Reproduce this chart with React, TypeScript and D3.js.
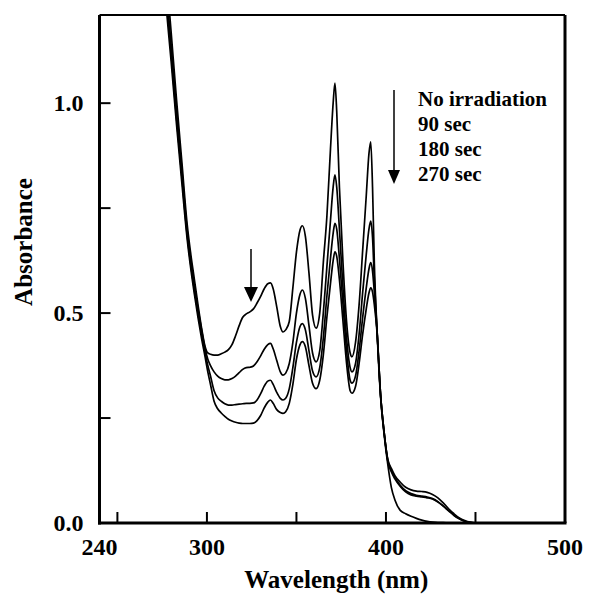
import React from "react";
import * as d3 from "d3";

const wavelengths = [272, 276, 280, 283, 286, 289, 291, 293, 295, 297, 299, 300.5, 302, 304, 306, 308, 310, 312, 314, 316, 318, 320, 322, 324, 326, 328, 330, 332, 334, 335.5, 337, 339, 341, 342.5, 344, 346, 348, 350, 352, 353.3, 355, 357, 359, 361, 363, 365, 367, 369, 370.5, 371.5, 372.5, 374, 376, 378, 380, 381, 383, 385, 387, 389, 390.5, 391.5, 392.5, 393.5, 395, 397, 399, 401, 403, 405, 408, 411, 414, 417, 420, 423, 426, 429, 432, 435, 438, 441, 444, 447, 450, 455];

const noIrradiation = [1.62, 1.38, 1.17, 1.01, 0.86, 0.71, 0.64, 0.58, 0.52, 0.465, 0.42, 0.405, 0.402, 0.4, 0.4, 0.403, 0.407, 0.413, 0.425, 0.446, 0.47, 0.49, 0.498, 0.503, 0.51, 0.524, 0.54, 0.558, 0.57, 0.572, 0.558, 0.515, 0.468, 0.455, 0.46, 0.48, 0.56, 0.645, 0.698, 0.708, 0.683, 0.595, 0.495, 0.464, 0.5, 0.62, 0.73, 0.89, 1.0, 1.048, 0.98, 0.8, 0.62, 0.48, 0.405, 0.396, 0.43, 0.52, 0.65, 0.78, 0.88, 0.908, 0.8, 0.62, 0.46, 0.3, 0.21, 0.14, 0.085, 0.055, 0.03, 0.022, 0.016, 0.011, 0.007, 0.004, 0.002, 0.001, 0.001, 0, 0, 0, 0, 0, 0, 0];

const sec90 = [1.58, 1.34, 1.14, 0.985, 0.84, 0.695, 0.625, 0.565, 0.51, 0.46, 0.415, 0.39, 0.375, 0.36, 0.35, 0.344, 0.341, 0.341, 0.344, 0.35, 0.358, 0.366, 0.37, 0.371, 0.374, 0.384, 0.398, 0.414, 0.425, 0.428, 0.415, 0.387, 0.36, 0.352, 0.357, 0.38, 0.43, 0.5, 0.545, 0.555, 0.535, 0.47, 0.405, 0.384, 0.41, 0.5, 0.61, 0.72, 0.8, 0.829, 0.8, 0.7, 0.56, 0.44, 0.37, 0.36, 0.38, 0.45, 0.55, 0.64, 0.7, 0.719, 0.68, 0.58, 0.46, 0.305, 0.215, 0.148, 0.122, 0.105, 0.087, 0.074, 0.067, 0.064, 0.062, 0.06, 0.057, 0.05, 0.04, 0.029, 0.018, 0.01, 0.004, 0.001, 0, 0];

const sec180 = [1.55, 1.31, 1.12, 0.965, 0.825, 0.685, 0.615, 0.555, 0.5, 0.45, 0.405, 0.375, 0.35, 0.315, 0.298, 0.29, 0.284, 0.281, 0.281, 0.282, 0.283, 0.284, 0.285, 0.285, 0.286, 0.293, 0.308, 0.326, 0.338, 0.34, 0.33, 0.311, 0.297, 0.293, 0.297, 0.32, 0.37, 0.43, 0.468, 0.475, 0.46, 0.41, 0.362, 0.348, 0.37, 0.44, 0.54, 0.63, 0.69, 0.714, 0.7, 0.63, 0.52, 0.41, 0.34, 0.333, 0.35, 0.41, 0.49, 0.56, 0.605, 0.62, 0.6, 0.55, 0.46, 0.305, 0.215, 0.15, 0.125, 0.108, 0.09, 0.077, 0.07, 0.066, 0.064, 0.062, 0.058, 0.051, 0.041, 0.03, 0.019, 0.01, 0.004, 0.001, 0, 0];

const sec270 = [1.52, 1.29, 1.1, 0.95, 0.81, 0.675, 0.605, 0.545, 0.49, 0.44, 0.395, 0.36, 0.33, 0.29, 0.272, 0.262, 0.254, 0.247, 0.243, 0.24, 0.238, 0.237, 0.237, 0.237, 0.238, 0.244, 0.256, 0.274, 0.288, 0.293, 0.285, 0.27, 0.263, 0.261, 0.265, 0.285, 0.33, 0.39, 0.425, 0.432, 0.42, 0.375, 0.333, 0.32, 0.34, 0.4, 0.49, 0.57, 0.625, 0.646, 0.635, 0.58, 0.48, 0.38, 0.315, 0.309, 0.325, 0.38, 0.45, 0.51, 0.548, 0.56, 0.55, 0.52, 0.455, 0.305, 0.215, 0.152, 0.13, 0.113, 0.097, 0.085, 0.079, 0.076, 0.075, 0.073, 0.068, 0.06, 0.048, 0.034, 0.022, 0.012, 0.006, 0.002, 0, 0];

const seriesList = [noIrradiation, sec90, sec180, sec270];
const legendLabels = ["No irradiation", "90 sec", "180 sec", "270 sec"];

const xTickValues = [250, 300, 350, 400, 450];
const xLabelValues = [240, 300, 400, 500];
const yTickValues = [0.25, 0.5, 0.75, 1.0];
const yLabelValues = [0.0, 0.5, 1.0];

const W = 590;
const H = 603;
const FONT = "'Liberation Serif', 'Times New Roman', serif";

export default function App() {
  const x = d3.scaleLinear().domain([240, 500]).range([99.5, 565]);
  const y = d3.scaleLinear().domain([0, 1.21]).range([523, 15]);

  const line = d3
    .line<number>()
    .x((_, i) => x(wavelengths[i]))
    .y((d) => y(d))
    .curve(d3.curveMonotoneX);

  const x0 = x(240);
  const x1 = x(500);
  const y0 = y(0);
  const y1 = y(1.21);

  return (
    <svg
      width={W}
      height={H}
      style={{ position: "absolute", left: 0, top: 0, background: "#fff" }}
      fontFamily={FONT}
    >
      <rect x={0} y={0} width={W} height={H} fill="#fff" />
      <defs>
        <clipPath id="plotClip">
          <rect x={x0} y={y1} width={x1 - x0} height={y0 - y1} />
        </clipPath>
      </defs>

      <g clipPath="url(#plotClip)">
        {seriesList.map((s, i) => (
          <path key={i} d={line(s) || ""} fill="none" stroke="#000" strokeWidth={1.7} />
        ))}
      </g>

      {/* frame */}
      <line x1={x0} y1={y1} x2={x1} y2={y1} stroke="#000" strokeWidth={2} />
      <line x1={x1} y1={y1} x2={x1} y2={y0} stroke="#000" strokeWidth={3} />
      <line x1={x0} y1={y1} x2={x0} y2={y0 + 1.5} stroke="#000" strokeWidth={3} />
      <line x1={x0 - 1.5} y1={y0} x2={x1 + 1.5} y2={y0} stroke="#000" strokeWidth={3} />

      {/* x ticks */}
      {xTickValues.map((v) => (
        <line key={v} x1={x(v)} x2={x(v)} y1={y0} y2={y0 - 11} stroke="#000" strokeWidth={2} />
      ))}
      {xLabelValues.map((v) => (
        <text key={v} x={x(v)} y={y0 + 32} textAnchor="middle" fontSize={24} fontWeight="bold">
          {v}
        </text>
      ))}

      {/* y ticks */}
      {yTickValues.map((v) => (
        <line key={v} x1={x0} x2={x0 + 11} y1={y(v)} y2={y(v)} stroke="#000" strokeWidth={2} />
      ))}
      {yLabelValues.map((v) => (
        <text key={v} x={x0 - 16} y={y(v) + 8} textAnchor="end" fontSize={24} fontWeight="bold">
          {v.toFixed(1)}
        </text>
      ))}

      {/* axis titles */}
      <text x={(x0 + x1) / 2 + 4} y={588} textAnchor="middle" fontSize={25} fontWeight="bold">
        Wavelength (nm)
      </text>
      <text
        transform={`translate(32, 242) rotate(-90)`}
        textAnchor="middle"
        fontSize={25}
        fontWeight="bold"
      >
        Absorbance
      </text>

      {/* legend */}
      <line x1={394} x2={394} y1={90} y2={172} stroke="#000" strokeWidth={1.5} />
      <path d="M388,170 L400,170 L394,184 Z" fill="#000" />
      {legendLabels.map((t, i) => (
        <text key={t} x={418} y={106 + i * 25} fontSize={21} fontWeight="bold">
          {t}
        </text>
      ))}

      {/* arrow at shoulder */}
      <line x1={251} x2={251} y1={249} y2={289} stroke="#000" strokeWidth={1.5} />
      <path d="M244,287 L258,287 L251,302 Z" fill="#000" />
    </svg>
  );
}
